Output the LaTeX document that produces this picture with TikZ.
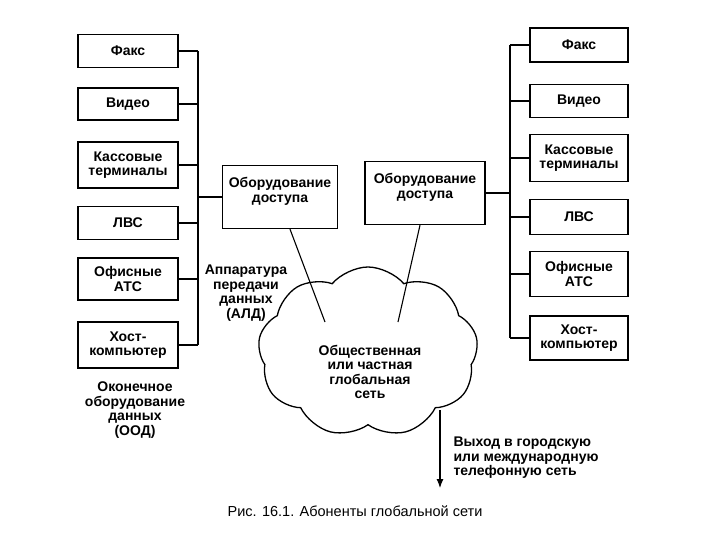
\documentclass[tikz,border=0pt]{standalone}
\usepackage{fontspec}
\setmainfont{Liberation Sans}
\usetikzlibrary{shapes.symbols,arrows.meta}
\begin{document}
\begin{tikzpicture}[x=1pt,y=-1pt,
  bx/.style={draw,line width=1.3pt,align=center,font=\bfseries\fontsize{14}{14.5}\selectfont,inner sep=1pt},
  ln/.style={line width=1.1pt},
  lbl/.style={align=center,font=\bfseries\fontsize{14}{14.5}\selectfont}]
\useasboundingbox (0,0) rectangle (720,540);
% left boxes
\node[bx,minimum width=100pt,minimum height=33pt] (l1) at (128,51) {Факс};
\node[bx,minimum width=100pt,minimum height=32pt] (l2) at (128,104) {Видео};
\node[bx,minimum width=100pt,minimum height=46pt] (l3) at (128,165) {Кассовые\\терминалы};
\node[bx,minimum width=100pt,minimum height=33pt] (l4) at (128,223) {ЛВС};
\node[bx,minimum width=100pt,minimum height=42pt] (l5) at (128,279) {Офисные\\АТС};
\node[bx,minimum width=100pt,minimum height=46pt] (l6) at (128,345) {Хост-\\компьютер};
% right boxes
\node[bx,minimum width=98pt,minimum height=34pt] (r1) at (579,45) {Факс};
\node[bx,minimum width=98pt,minimum height=33pt] (r2) at (579,101) {Видео};
\node[bx,minimum width=98pt,minimum height=47pt] (r3) at (579,158) {Кассовые\\терминалы};
\node[bx,minimum width=98pt,minimum height=35pt] (r4) at (579,217) {ЛВС};
\node[bx,minimum width=98pt,minimum height=45pt] (r5) at (579,274) {Офисные\\АТС};
\node[bx,minimum width=98pt,minimum height=44pt] (r6) at (579,338) {Хост-\\компьютер};
% access
\node[bx,minimum width=115pt,minimum height=63pt,text depth=14pt] (al) at (280,197) {Оборудование\\доступа};
\node[bx,minimum width=120pt,minimum height=63pt,text depth=14pt] (ar) at (425,193) {Оборудование\\доступа};
% buses
\coordinate (lb1) at (198,51); \coordinate (lb6) at (198,345);
\draw[ln] (lb1) -- (lb6);
\foreach \n in {l1,l2,l3,l4,l5,l6} \draw[ln] (\n.east) -- (\n.east -| lb1);
\draw[ln] (al.west) -- (al.west -| lb1);
\coordinate (rb1) at (510,45); \coordinate (rb6) at (510,338);
\draw[ln] (rb1) -- (rb6);
\foreach \n in {r1,r2,r3,r4,r5,r6} \draw[ln] (\n.west) -- (\n.west -| rb1);
\draw[ln] (ar.east) -- (ar.east -| rb1);
% cloud
\node[cloud,draw,line width=1.3pt,cloud puffs=9,cloud puff arc=100,aspect=1.3,minimum width=220pt,minimum height=170pt] (cl) at (368,352) {};
\node[lbl] (ct) at (370,372) {Общественная\\или частная\\глобальная\\сеть};
\coordinate (cl1) at (325,322); \coordinate (cr1) at (398,322);
\draw[ln] (al.south) ++(10,0) coordinate (als) -- (cl1);
\draw[ln] (ar.south) ++(-5,0) coordinate (ars) -- (cr1);
\node[lbl] (apd) at (246,293) {Аппаратура\\передачи\\данных\\(АЛД)};
\node[lbl] (ood) at (135,410) {Оконечное\\оборудование\\данных\\(ООД)};
\coordinate (ex1) at (440,410); \coordinate (ex2) at (440,488);
\draw[ln,-{Latex[length=9pt,width=7pt]}] (ex1) -- (ex2);
\node[lbl,align=left,anchor=west] (ext) at (450,458) {Выход в городскую\\или международную\\телефонную сеть};
\node[font=\fontsize{14.5}{16}\selectfont] (cap) at (355,511) {Рис. 16.1. Абоненты глобальной сети};
\end{tikzpicture}
\end{document}
